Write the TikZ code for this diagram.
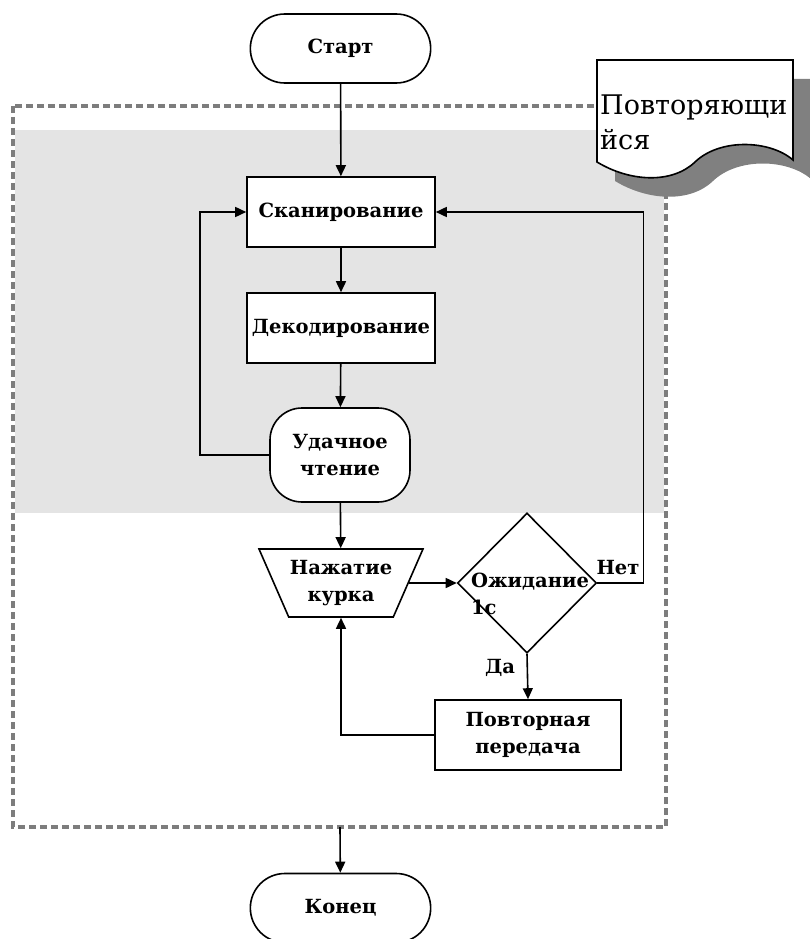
\documentclass[tikz,border=0pt]{standalone}
\usepackage{fontspec}
\setmainfont{DejaVu Serif}
\usetikzlibrary{shapes.geometric}
\usetikzlibrary{shapes.misc}
\usetikzlibrary{arrows.meta}
\usetikzlibrary{positioning}

\definecolor{bandgray}{RGB}{228,228,228}
\definecolor{framegray}{RGB}{125,125,125}
\definecolor{shadowgray}{RGB}{128,128,128}

\begin{document}
\begin{tikzpicture}
  [x = 1pt, y = -1pt,
   every node/.style = {font=\fontsize{19.5}{27}\selectfont\bfseries, align=center},
   terminal/.style = {rounded rectangle, draw, line width=1.6pt, fill=white,
                      minimum width=187pt, minimum height=69pt},
   process/.style = {rectangle, draw, line width=1.6pt, fill=white,
                     minimum width=188pt, minimum height=70pt},
   flow/.style = {line width=1.6pt, -{Triangle[length=11pt, width=10pt]}}]
  \useasboundingbox (0, 0) rectangle (809, 939);

  % loop area
  \fill [bandgray] (15, 130) rectangle (664, 513);
  \draw [framegray, line width=3.2pt, dash pattern=on 7pt off 4pt]
    (13, 106) rectangle (666, 827);
  \coordinate (framebot) at (340, 827);

  % note with shadow
  \fill [shadowgray] (615, 79) -- (811, 79) -- (811, 179)
    .. controls (788, 159) and (738, 157) .. (713, 181)
    .. controls (690, 203) and (648, 201) .. (615, 181) -- cycle;
  \filldraw [fill=white, line width=1.6pt] (597, 60) -- (793, 60) -- (793, 160)
    .. controls (770, 140) and (720, 138) .. (695, 162)
    .. controls (672, 184) and (630, 182) .. (597, 162) -- cycle;
  \node [font=\fontsize{27}{35}\selectfont, align=left, anchor=north west, inner sep=0]
    (repeatnote) at (600, 95) {Повторяющи\\йся};

  \node [terminal] (start) at (340.5, 48.5) {Старт};
  \node [process] (scan) at (341, 212) {Сканирование};
  \node [process] (decode) at (341, 328) {Декодирование};
  \node [rectangle, rounded corners=32pt, draw, line width=1.6pt, fill=white,
         minimum width=140pt, minimum height=94pt] (read) at (340, 455) {Удачное\\чтение};
  \node [trapezium, trapezium angle=58, shape border rotate=180,
         trapezium stretches body, draw, line width=1.6pt, fill=white, inner sep=1pt,
         minimum width=164pt, minimum height=68pt] (press) at (341, 583) {Нажатие\\курка};
  \node [diamond, draw, line width=1.6pt, fill=white, inner sep=0,
         minimum width=139pt, minimum height=140pt] (wait) at (527, 583) {};
  \node [align=left] (waittext) at (530, 594) {Ожидание\\1с};
  \node [process, minimum width=186pt] (resend) at (528, 735) {Повторная\\передача};
  \node [terminal] (finish) at (340.5, 908) {Конец};

  \node (no) at (618, 568) {Нет};
  \node (yes) at (500, 668) {Да};

  \draw [flow] (start) -- (scan);
  \draw [flow] (scan) -- (decode);
  \draw [flow] (decode) -- (read);
  \draw [flow] (read.west) -- ++(-69, 0) |- (scan.west);
  \draw [flow] (read) -- (press);
  \draw [flow] (press.east) -- (wait.west);
  \draw [flow] (wait.east) -- ++(46, 0) |- (scan.east);
  \draw [flow] (wait.south) -- (resend.north);
  \draw [flow] (resend.west) -| (press.south);
  \draw [flow] (framebot) -- (finish);
\end{tikzpicture}
\end{document}
